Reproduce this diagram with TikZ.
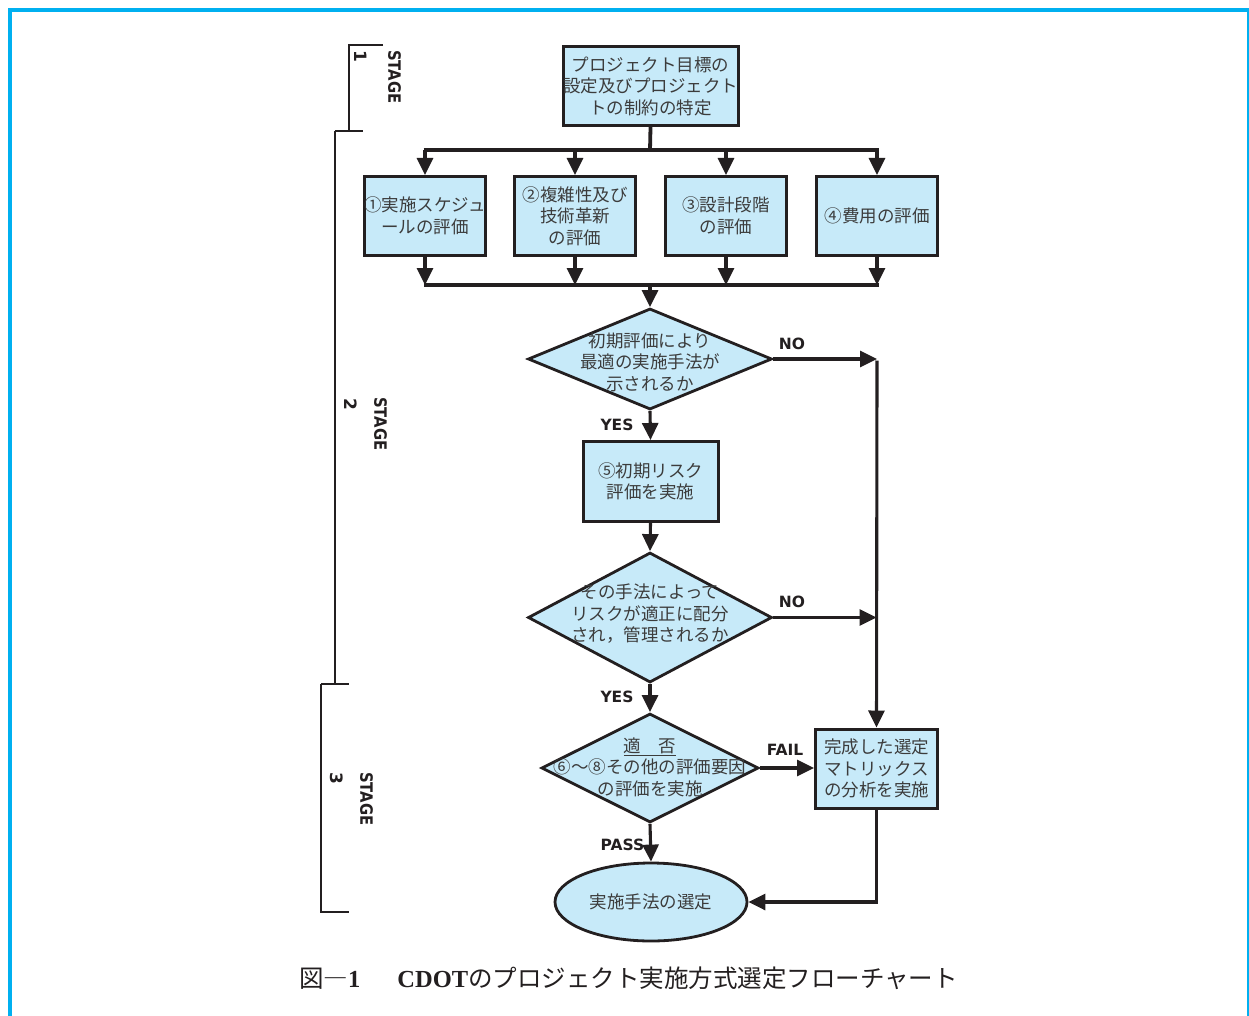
\documentclass[tikz,border=0pt]{standalone}
\usepackage{fontspec}
\usetikzlibrary{arrows.meta,shapes.geometric}
\newfontfamily\jp{Noto Sans CJK JP}
\newfontfamily\lab{DejaVu Sans}
\newfontfamily\capser{Liberation Serif}
\definecolor{boxfill}{RGB}{199,234,249}
\definecolor{lncol}{RGB}{35,31,32}
\definecolor{txtcol}{RGB}{60,60,60}
\definecolor{framecol}{RGB}{0,176,240}
\begin{document}
\begin{tikzpicture}[x=1pt,y=-1pt,
  fbox/.style={draw=lncol,line width=3pt,fill=boxfill,rectangle,inner sep=0pt,align=center,
    font=\jp\fontsize{17.5}{21.5}\selectfont,text=txtcol},
  dia/.style={draw=lncol,line width=2.8pt,fill=boxfill,diamond,inner sep=0pt},
  ell/.style={draw=lncol,line width=2.8pt,fill=boxfill,ellipse,inner sep=0pt,
    font=\jp\fontsize{17.5}{21.5}\selectfont,text=txtcol},
  dtxt/.style={inner sep=0pt,align=center,font=\jp\fontsize{17.5}{21.5}\selectfont,text=txtcol},
  ln/.style={draw=lncol,line width=3.1pt},
  arr/.style={draw=lncol,line width=3.1pt,-{Triangle[width=16pt,length=17pt]}},
  brk/.style={draw=lncol,line width=2.2pt},
  lbl/.style={inner sep=0pt,font=\lab\bfseries\fontsize{15.5}{18}\selectfont,text=lncol},
  stg/.style={inner sep=0pt,font=\lab\bfseries\fontsize{17}{20}\selectfont,text=lncol,anchor=west,rotate=-90}
]
\useasboundingbox (0,0) rectangle (1249,1016);
% frame
\draw[framecol,line width=4pt] (10,1016) -- (10,10) -- (1249,10);
\draw[framecol,line width=2pt] (1247.5,10) -- (1247.5,1016);

% nodes
\node[fbox,minimum width=162,minimum height=79] (top) at (650.5,86) {プロジェクト目標の\\設定及びプロジェクト\\トの制約の特定};
\node[fbox,minimum width=121,minimum height=79] (b1) at (425,216) {①実施スケジュ\\ールの評価};
\node[fbox,minimum width=121,minimum height=79] (b2) at (575,216) {②複雑性及び\\技術革新\\の評価};
\node[fbox,minimum width=121,minimum height=79] (b3) at (726,216) {③設計段階\\の評価};
\node[fbox,minimum width=121,minimum height=79] (b4) at (877,216) {④費用の評価};

\node[dia,minimum width=244,minimum height=101] (d1) at (650,359) {};
\node[dtxt] (d1t) at (650,362) {初期評価により\\最適の実施手法が\\示されるか};

\node[fbox,minimum width=135,minimum height=80] (b5) at (650.5,481.5) {⑤初期リスク\\評価を実施};

\node[dia,minimum width=244,minimum height=130] (d2) at (650,617.5) {};
\node[dtxt] (d2t) at (650,614) {その手法によって\\リスクが適正に配分\\され，管理されるか};

\node[dia,minimum width=217,minimum height=109] (d3) at (650,768) {};
\node[dtxt] (d3t) at (650,767) {\underline{適\quad 否}\\⑥〜⑧その他の評価要因\\の評価を実施};

\node[fbox,minimum width=122,minimum height=79] (b6) at (876.5,768.5) {完成した選定\\マトリックス\\の分析を実施};

\node[ell,minimum width=192,minimum height=78] (el) at (651,902) {実施手法の選定};

% bars
\coordinate (barT) at (650,150);
\coordinate (barTL) at (425,150);
\coordinate (barTR) at (877,150);
\coordinate (barB) at (650,285);
\coordinate (barBL) at (425,285);
\coordinate (barBR) at (877,285);

\draw[ln,line width=3.8pt] (top.south) -- (barT);
\draw[ln] ([xshift=-1.5pt]barTL) -- ([xshift=1.5pt]barTR);
\draw[arr] (barTL) -- (b1.north);
\draw[arr] (b2.north |- barT) -- (b2.north);
\draw[arr] (b3.north |- barT) -- (b3.north);
\draw[arr] (barTR) -- (b4.north);

\draw[arr] (b1.south) -- (barBL);
\draw[arr] (b2.south) -- (b2.south |- barB);
\draw[arr] (b3.south) -- (b3.south |- barB);
\draw[arr] (b4.south) -- (barBR);
\draw[ln] ([xshift=-1.5pt]barBL) -- ([xshift=1.5pt]barBR);
\draw[arr] (barB) -- (d1.north);

\coordinate (j1) at (877,359);
\draw[arr] (d1.east) -- (j1);
\draw[arr] ([yshift=-1.5pt]j1) -- (b6.north);
\draw[arr] (d2.east) -- (d2.east -| b6.north);

\draw[arr] (d1.south) -- (b5.north);
\draw[arr] (b5.south) -- (d2.north);
\draw[arr] (d2.south) -- (d3.north);
\draw[arr] (d3.east) -- (b6.west |- d3.east);
\draw[arr] (d3.south) -- (el.north);
\draw[arr] (b6.south) -- (b6.south |- el.east) -- (el.east);

% labels
\node[lbl] (no1) at (792,344) {NO};
\node[lbl] (yes1) at (617,424.5) {YES};
\node[lbl] (no2) at (792,602) {NO};
\node[lbl] (yes2) at (617,697) {YES};
\node[lbl] (fail) at (785,750) {FAIL};
\node[lbl] (pass) at (622.5,845) {PASS};

% stage brackets
\draw[brk] (383,45) -- (349,45) -- (349,131);
\draw[brk] (335,131) -- (363,131);
\draw[brk] (335,131) -- (335,684);
\draw[brk] (321,684) -- (349,684);
\draw[brk] (321,684) -- (321,912) -- (349,912);

\node[stg] (s1a) at (394.5,50) {\scalebox{0.87}[1]{STAGE}};
\node[stg] (s1b) at (361,50) {1};
\node[stg] (s2a) at (380.5,397) {\scalebox{0.87}[1]{STAGE}};
\node[stg] (s2b) at (351,398) {2};
\node[stg] (s3a) at (366.5,772) {\scalebox{0.87}[1]{STAGE}};
\node[stg] (s3b) at (336.5,772) {3};

% caption
\node[anchor=west,inner sep=0pt,text=lncol,font=\jp\fontsize{24.5}{27}\selectfont] (cap) at (299,978)
 {図―{\capser\bfseries 1}\hspace{37pt}{\capser\bfseries CDOT}のプロジェクト実施方式選定フローチャート};
\end{tikzpicture}
\end{document}
